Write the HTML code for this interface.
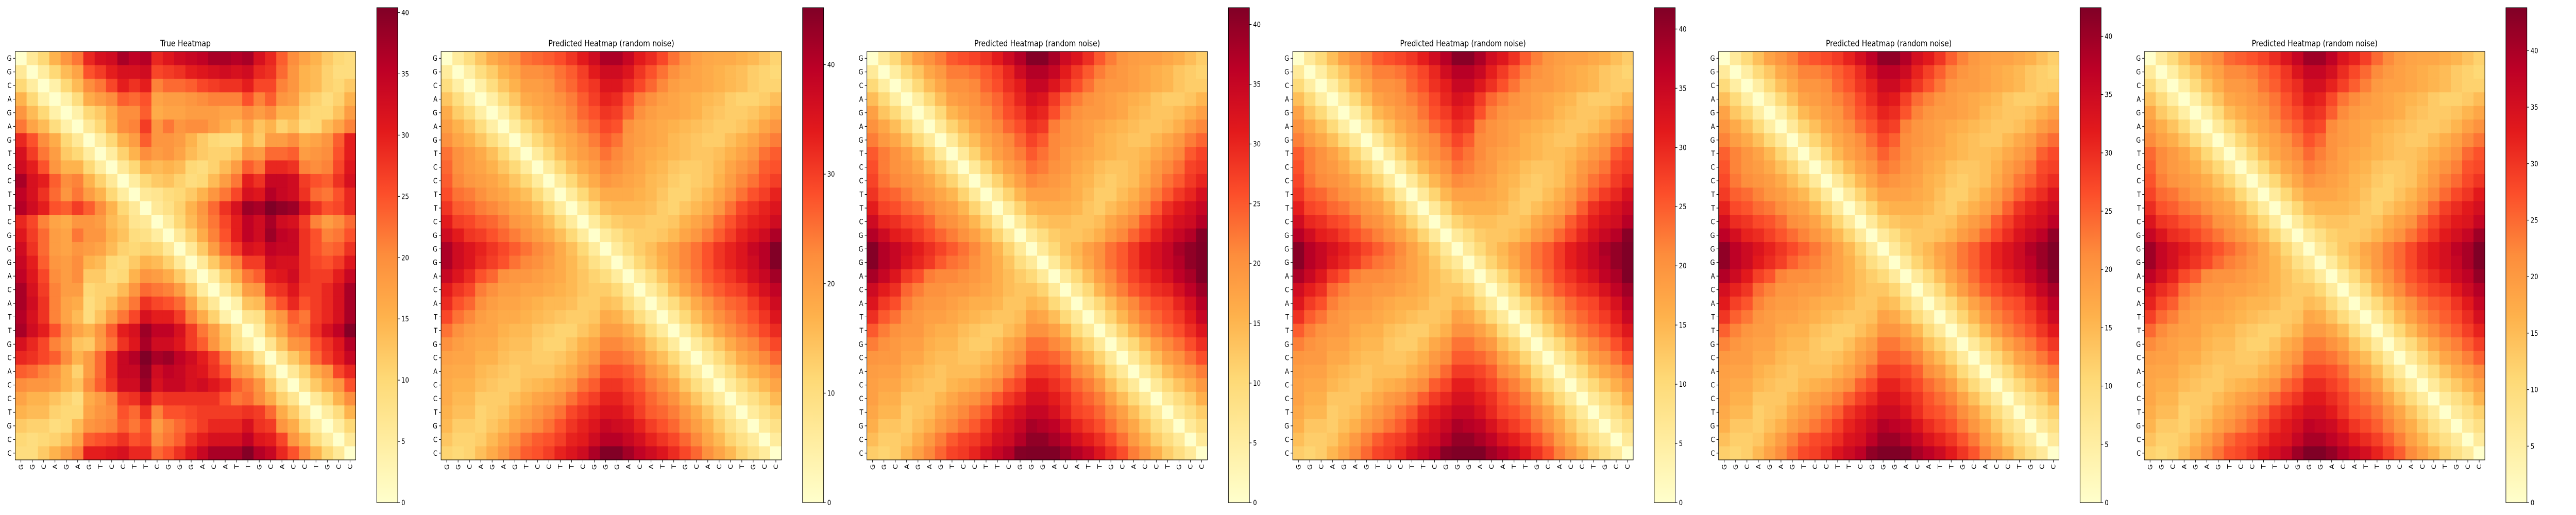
<!DOCTYPE html>
<html>
<head>
<meta charset="utf-8">
<style>
  html,body{margin:0;padding:0;background:#fff;overflow:hidden;width:100%;height:100%;}
  svg{display:block;width:100vw;height:100vh;font-family:"DejaVu Sans","Liberation Sans",sans-serif;}
</style>
</head>
<body>
<svg id="fig" viewBox="0 0 6000 1000" preserveAspectRatio="none" xmlns="http://www.w3.org/2000/svg">
  <defs>
    <linearGradient id="ylorrd" x1="0" y1="1" x2="0" y2="0">
      <stop offset="0" stop-color="#ffffcc"/>
      <stop offset="0.125" stop-color="#ffeda0"/>
      <stop offset="0.25" stop-color="#fed976"/>
      <stop offset="0.375" stop-color="#feb24c"/>
      <stop offset="0.5" stop-color="#fd8d3c"/>
      <stop offset="0.625" stop-color="#fc4e2a"/>
      <stop offset="0.75" stop-color="#e31a1c"/>
      <stop offset="0.875" stop-color="#bd0026"/>
      <stop offset="1" stop-color="#800026"/>
    </linearGradient>
  </defs>
</svg>
<script>
// ---------- data ----------
const sequence = ["G","G","C","A","G","A","G","T","C","C","T","T","C","G","G","G","A","C","A","T","T","G","C","A","C","C","T","G","C","C"];
const panelTitles = ["True Heatmap","Predicted Heatmap (random noise)","Predicted Heatmap (random noise)","Predicted Heatmap (random noise)","Predicted Heatmap (random noise)","Predicted Heatmap (random noise)"];
const panelVmax = [40.4, 45.2, 41.4, 41.8, 42.45, 43.8];
const colorbarTickStep = [5, 10, 5, 5, 5, 5];

const trueValues = [
[0,6,10,15,19,22,29,32,33,37,35,36,29,31,33,34,35,37,37,36,37,32,29,24,20,17,15,12,10,9],
[6,0,5,10,14,17,25,27,30,32,32,33,26,27,28,30,31,32,33,32,33,29,28,23,19,15,14,11,9,9],
[10,5,0,4,10,14,20,22,26,30,28,30,21,23,23,24,26,27,28,28,30,26,26,21,19,15,14,11,10,12],
[15,10,4,0,4,9,16,18,20,24,23,25,17,18,18,19,20,21,21,21,25,21,24,19,18,13,11,9,11,15],
[19,14,10,4,0,4,10,12,16,20,20,24,16,17,17,18,18,18,17,17,20,18,20,15,15,11,10,10,13,18],
[22,17,14,9,4,0,6,10,15,20,21,27,19,22,19,20,20,18,16,14,17,13,15,11,13,9,10,14,17,21],
[29,25,20,16,10,6,0,5,10,15,18,24,19,19,18,15,12,10,9,9,15,12,18,18,20,16,17,19,24,30],
[32,27,22,18,12,10,5,0,5,11,15,20,18,19,17,14,12,11,11,13,19,18,23,23,24,18,19,20,25,30],
[33,30,25,19,15,15,10,5,0,6,10,15,14,15,14,10,9,11,14,18,24,22,29,29,28,21,20,21,26,31],
[37,32,30,24,20,21,15,11,6,0,5,10,12,13,11,9,10,14,18,22,30,28,34,34,33,27,25,24,28,32],
[35,32,28,23,19,22,18,15,10,5,0,6,7,9,10,12,15,19,22,26,32,31,36,34,33,28,23,22,25,29],
[36,33,30,25,24,27,24,20,15,10,6,0,6,8,11,15,19,23,28,32,38,37,41,39,38,32,28,25,26,29],
[29,26,21,17,16,19,19,18,14,12,7,6,0,5,10,14,18,22,26,30,35,33,37,33,32,27,21,18,20,23],
[31,27,23,18,17,22,19,19,15,13,9,8,5,0,6,11,16,21,25,30,35,33,38,35,34,28,25,21,22,25],
[33,28,23,18,17,19,18,17,14,11,10,11,10,6,0,6,12,18,23,27,32,31,35,34,34,28,25,23,24,28],
[34,30,24,19,18,20,15,14,10,9,12,15,14,11,6,0,6,12,17,21,27,27,33,32,32,28,26,25,27,31],
[35,31,26,20,18,20,12,12,9,10,15,19,18,16,12,6,0,5,11,16,22,24,30,31,33,28,27,27,30,34],
[37,32,27,21,18,18,10,11,11,14,19,23,22,21,18,12,5,0,6,11,18,19,27,28,31,27,27,29,32,37],
[37,33,28,21,17,16,9,11,14,18,22,28,26,25,23,17,11,6,0,4,13,14,22,25,29,25,27,29,32,37],
[36,32,28,21,17,14,9,13,18,22,26,32,30,30,27,21,16,11,4,0,7,8,16,19,24,22,27,29,32,37],
[37,33,30,25,20,17,15,19,24,30,32,38,35,35,32,27,22,18,13,7,0,5,13,17,22,23,28,32,35,40],
[32,29,26,21,18,13,12,18,22,28,31,37,33,33,31,27,24,19,14,8,5,0,7,13,19,20,25,28,31,36],
[29,28,26,24,20,15,18,23,29,34,36,41,37,38,35,33,30,27,22,16,13,7,0,7,12,16,23,27,30,34],
[24,23,21,19,15,11,18,23,29,34,34,39,33,35,34,32,31,28,25,19,17,13,7,0,6,11,16,19,26,29],
[20,19,19,18,15,13,20,24,28,33,33,38,32,34,34,32,33,31,29,24,22,19,12,6,0,7,12,16,19,25],
[17,15,15,13,11,9,16,18,21,27,28,32,27,28,28,28,28,28,25,22,23,20,16,11,7,0,6,10,15,20],
[15,14,14,11,10,10,17,19,20,25,23,28,21,25,25,26,27,27,27,27,28,27,23,16,12,6,0,5,9,15],
[12,11,11,9,10,14,19,20,21,24,22,25,18,21,23,25,27,29,29,29,32,28,27,19,16,10,5,0,5,10],
[10,9,10,11,13,17,24,25,26,28,25,26,20,22,24,28,30,32,32,32,35,31,30,26,19,15,9,5,0,6],
[9,9,12,15,18,21,30,30,31,32,29,29,23,25,28,31,34,37,37,37,40,36,34,29,25,20,15,10,6,0]
];

// Predicted (symmetric): row i lists values for columns i..29
const predictedUpperRows = [
[0,6,10,14,18,20,22,25,26,27,28.5,31,34,37,41,41,38,34,32,29,25,22,19.5,18.5,18,18,17,16,14,12],
[0,5,10,13,17,19,22,22,23,25,27,30,34,37,37,35,31,28,25,22,20,19,18,17,16,15,13,12,11],
[0,5,10,14,17,20,20,21,24,26,29,31,35,35,32,29,26,23,20,19,19,18,17,16,15,13,12,12],
[0,5,10,14,18,19,20,22,24,27,30,33,32,28,24,22,20,19,18,17,16,15,13,12,12,13,15],
[0,5,10,15,17,19,20,23,26,28,31,30,26,22,20,19,19,18,17,15,14,13,13,14,16,18],
[0,6,11,14,17,19,21,24,26,29,28,22,20,19,18,17,16,15,14,13,13,14,16,19,21],
[0,6,11,14,17,19,21,24,27,25,21,20,19,18,16,15,14,13,13,15,17,19,22,24],
[0,6,11,15,18,20,22,25,23,21,19,18,17,16,15,14,14,15,17,19,21,25,27],
[0,6,11,15,18,20,23,22,20,19,17,16,14,13,13,14,16,19,21,23,27,28],
[0,6,11,15,18,21,20,19,18,16,15,13,12,13,14,17,20,23,25,28,30],
[0,6,11,15,18,18,18,17,16,14,12,12,14,16,19,22,25,28,30,33],
[0,6,11,15,16,16,16,15,13,12,14,16,18,21,25,29,31,33,35],
[0,6,11,13,14,14,13,13,14,17,19,21,25,28,31,33,34,37],
[0,6,9,12,13,13,14,16,19,21,24,27,30,33,35,37,41],
[0,6,10,13,15,18,20,23,25,28,31,33,35,38,40,45],
[0,6,11,14,17,20,23,25,28,31,33,35,37,40,45],
[0,6,10,14,18,21,24,27,29,31,33,36,38,42],
[0,6,10,15,19,22,25,27,29,30,33,36,39],
[0,6,10,14,18,21,24,26,27,30,33,37],
[0,6,11,15,19,22,24,26,28,31,35],
[0,6,11,15,19,22,24,26,29,32],
[0,6,10,14,18,21,23,26,29],
[0,6,10,14,18,20,23,26],
[0,6,10,14,17,19,22],
[0,6,10,13,16,19],
[0,6,9,12,16],
[0,6,9,12],
[0,6,9],
[0,6],
[0]
];

// ---------- rendering ----------
const NS = "http://www.w3.org/2000/svg";
const svg = document.getElementById("fig");
const stops = [[255,255,204],[255,237,160],[254,217,118],[254,178,76],[253,141,60],[252,78,42],[227,26,28],[189,0,38],[128,0,38]];
function cmap(t){
  t = Math.max(0, Math.min(1, t));
  const p = t * 8, i = Math.min(7, Math.floor(p)), f = p - i;
  const a = stops[i], b = stops[i+1];
  return "rgb(" + [0,1,2].map(k => Math.round(a[k] + (b[k]-a[k]) * f)).join(",") + ")";
}
function el(tag, attrs, parent){
  const e = document.createElementNS(NS, tag);
  for (const k in attrs) e.setAttribute(k, attrs[k]);
  (parent || svg).appendChild(e);
  return e;
}
function predictedValue(i, j){
  return j >= i ? predictedUpperRows[i][j - i] : predictedUpperRows[j][i - j];
}

const N = sequence.length;
const PANEL_X0 = 35.5, PANEL_STRIDE = 991.84, TOP = 100, SIZE = 793;
const CB_TOP = 15, CB_BOTTOM = 976, CB_W = 49, CB_GAP = 49;

for (let p = 0; p < 6; p++) {
  const left = PANEL_X0 + PANEL_STRIDE * p;
  const cell = SIZE / N;
  const vmax = panelVmax[p];
  const xScale = j => left + j * cell;
  const yScale = i => TOP + i * cell;
  const g = el("g", {});
  
  

  const title = el("text", {x: left + SIZE / 2, y: TOP - 10, "text-anchor": "middle", "font-size": "16.7"}, g);
  title.textContent = panelTitles[p];
  
  

  for (let i = 0; i < N; i++) {
    for (let j = 0; j < N; j++) {
      const v = p === 0 ? trueValues[i][j] : predictedValue(i, j);
      const r = el("rect", {x: xScale(j), y: yScale(i), width: cell + 0.6, height: cell + 0.6, fill: cmap(v / vmax)}, g);
      
      
    }
  }
  const frame = el("rect", {x: left, y: TOP, width: SIZE, height: SIZE, fill: "none", stroke: "#000", "stroke-width": 1.1}, g);
  
  

  for (let k = 0; k < N; k++) {
    const cy = yScale(k) + cell / 2;
    el("line", {x1: left - 4.9, x2: left, y1: cy, y2: cy, stroke: "#000", "stroke-width": 1.1}, g);
    const yl = el("text", {x: left - 8.5, y: cy + 5, "text-anchor": "end", "font-size": "13.9"}, g);
    yl.textContent = sequence[k];
    
    
    const cx = xScale(k) + cell / 2;
    el("line", {x1: cx, x2: cx, y1: TOP + SIZE, y2: TOP + SIZE + 4.9, stroke: "#000", "stroke-width": 1.1}, g);
    const xl = el("text", {x: 0, y: 0, "text-anchor": "end", "font-size": "13.9",
      transform: "translate(" + (cx + 5) + "," + (TOP + SIZE + 8.5) + ") rotate(-90)"}, g);
    xl.textContent = sequence[k];
    
    
  }

  // colorbar
  const cbLeft = left + SIZE + CB_GAP;
  const cb = el("rect", {x: cbLeft, y: CB_TOP, width: CB_W, height: CB_BOTTOM - CB_TOP, fill: "url(#ylorrd)", stroke: "#000", "stroke-width": 1.1}, g);
  
  
  const cbScale = v => CB_BOTTOM - (v / vmax) * (CB_BOTTOM - CB_TOP);
  for (let t = 0; t <= vmax; t += colorbarTickStep[p]) {
    const ty = cbScale(t);
    el("line", {x1: cbLeft + CB_W, x2: cbLeft + CB_W + 4.9, y1: ty, y2: ty, stroke: "#000", "stroke-width": 1.1}, g);
    const tl = el("text", {x: cbLeft + CB_W + 8.5, y: ty + 5, "font-size": "13.9"}, g);
    tl.textContent = String(t);
    
    
  }
}
</script>
</body>
</html>
